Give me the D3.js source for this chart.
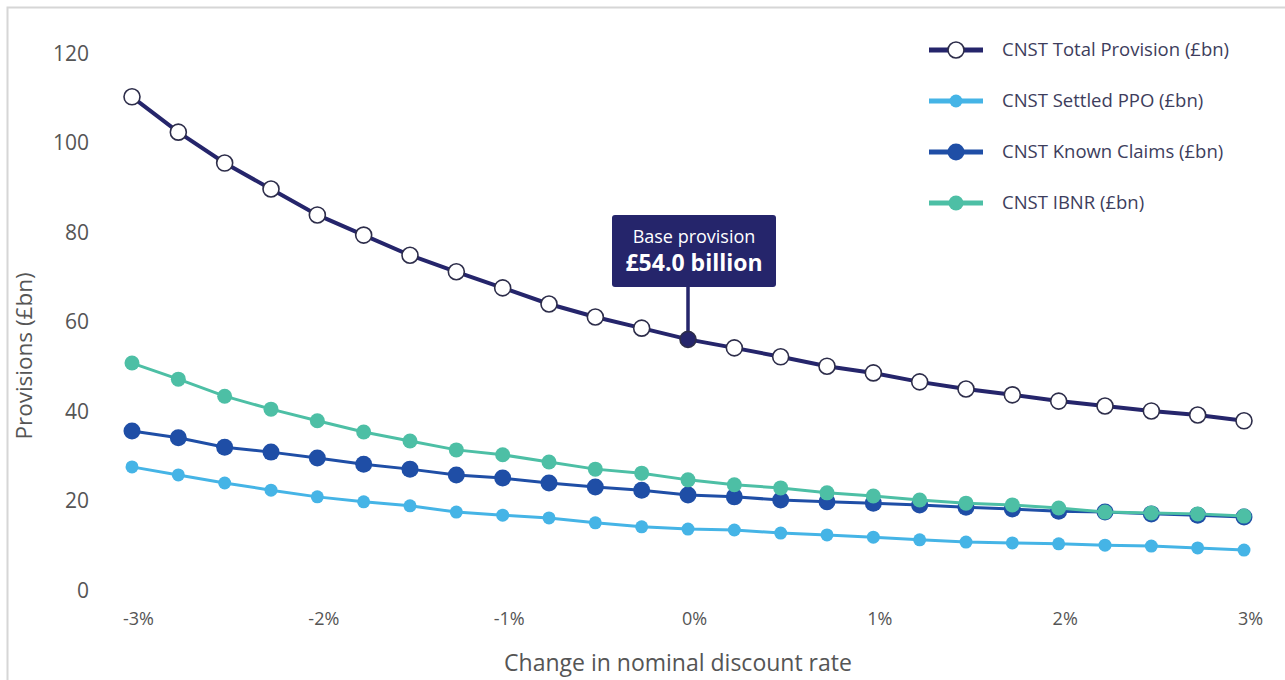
<!DOCTYPE html>
<html>
<head>
<meta charset="utf-8">
<script src="https://cdn.jsdelivr.net/npm/d3@7"></script>
<style>
  html, body { margin: 0; padding: 0; background: #ffffff; }
  svg { display: block; font-family: "Open Sans", sans-serif; }
</style>
</head>
<body>
<svg id="chart" width="1285" height="680"></svg>
<script>
// ---- Data ----
const rates = [-3, -2.75, -2.5, -2.25, -2, -1.75, -1.5, -1.25, -1, -0.75, -0.5, -0.25, 0,
               0.25, 0.5, 0.75, 1, 1.25, 1.5, 1.75, 2, 2.25, 2.5, 2.75, 3];
const totalProvision = [108.2, 100.3, 93.4, 87.6, 81.8, 77.3, 72.8, 69.1, 65.5, 61.9, 59.0, 56.5, 54.0,
                        52.1, 50.1, 48.0, 46.5, 44.5, 42.9, 41.6, 40.2, 39.1, 38.0, 37.1, 35.8];
const settledPPO = [25.5, 23.7, 21.9, 20.3, 18.8, 17.7, 16.8, 15.4, 14.7, 14.1, 13.0, 12.1, 11.6,
                    11.4, 10.7, 10.3, 9.8, 9.2, 8.7, 8.5, 8.3, 8.0, 7.8, 7.4, 6.9];
const knownClaims = [33.5, 32.0, 29.9, 28.8, 27.5, 26.1, 25.0, 23.7, 23.0, 21.9, 21.0, 20.3, 19.2,
                     18.8, 18.1, 17.7, 17.4, 17.0, 16.5, 16.1, 15.6, 15.4, 15.0, 14.7, 14.3];
const ibnr = [48.7, 45.1, 41.3, 38.4, 35.8, 33.3, 31.3, 29.3, 28.2, 26.6, 25.0, 24.1, 22.6,
              21.5, 20.8, 19.7, 19.0, 18.1, 17.4, 17.0, 16.3, 15.4, 15.2, 15.0, 14.5];
const seriesNames = ["CNST Total Provision (£bn)", "CNST Settled PPO (£bn)", "CNST Known Claims (£bn)", "CNST IBNR (£bn)"];
const xTicks = [-3, -2, -1, 0, 1, 2, 3];
const yTicks = [0, 20, 40, 60, 80, 100, 120];
const baseRate = 0;
const baseLabel = ["Base provision", "£54.0 billion"];
const xTitle = "Change in nominal discount rate";
const yTitle = "Provisions (£bn)";

// ---- Styles ----
const colors = {
  total: "#25256b",
  ppo: "#45b4e6",
  known: "#1f4ea6",
  ibnr: "#4dbfa5"
};

const svg = d3.select("#chart");

// frame
svg.append("rect")
  .attr("x", 7.5).attr("y", 7.5)
  .attr("width", 1400).attr("height", 800)
  .attr("fill", "none").attr("stroke", "#d6d6d6").attr("stroke-width", 2);

const x = d3.scaleLinear().domain([-3, 3]).range([132, 1244]);
const y = d3.scaleLinear().domain([0, 120]).range([581, 44]);

// Y axis
const yAxis = svg.append("g")
  .attr("transform", "translate(89,0)")
  .call(d3.axisLeft(y).tickValues(yTicks).tickSize(0).tickPadding(0).tickFormat(d3.format("d")));
yAxis.select(".domain").remove();
yAxis.selectAll("text")
  .attr("font-family", "Open Sans, sans-serif")
  .attr("font-size", 21)
  .attr("fill", "#555")
  .attr("dy", "0.34em")
  .attr("transform", "translate(0,9)");

// X axis
const xAxis = svg.append("g")
  .attr("transform", "translate(6,612)")
  .call(d3.axisBottom(x).tickValues(xTicks).tickSize(0).tickPadding(0).tickFormat(d => d + "%"));
xAxis.select(".domain").remove();
xAxis.selectAll("text")
  .attr("font-family", "Open Sans, sans-serif")
  .attr("font-size", 18)
  .attr("fill", "#555");

// Axis titles
svg.append("text")
  .attr("x", 678).attr("y", 671)
  .attr("text-anchor", "middle")
  .attr("font-size", 23)
  .attr("fill", "#555")
  .text(xTitle);

svg.append("text")
  .attr("transform", "translate(32,356) rotate(-90)")
  .attr("text-anchor", "middle")
  .attr("font-size", 22.5)
  .attr("fill", "#555")
  .text(yTitle);

const line = d3.line().x(d => x(d[0])).y(d => y(d[1]));

function drawSeries(values, color, lw, r, fill, stroke, sw) {
  const pts = rates.map((r0, i) => [r0, values[i]]);
  svg.append("path")
    .datum(pts)
    .attr("d", line)
    .attr("fill", "none")
    .attr("stroke", color)
    .attr("stroke-width", lw);
  svg.append("g").selectAll("circle")
    .data(pts)
    .join("circle")
    .attr("cx", d => x(d[0]))
    .attr("cy", d => y(d[1]))
    .attr("r", r)
    .attr("fill", d => (fill === "white" && d[0] === baseRate) ? color : fill)
    .attr("stroke", stroke)
    .attr("stroke-width", sw);
}

drawSeries(settledPPO, colors.ppo, 3, 6.5, colors.ppo, "none", 0);
drawSeries(knownClaims, colors.known, 3, 8.5, colors.known, "none", 0);
drawSeries(ibnr, colors.ibnr, 3, 7.5, colors.ibnr, "none", 0);

// Annotation stem (under the total markers)
const baseIdx = rates.indexOf(baseRate);
const bx = x(baseRate), by = y(totalProvision[baseIdx]);
svg.append("line")
  .attr("x1", bx).attr("x2", bx)
  .attr("y1", 286).attr("y2", by)
  .attr("stroke", colors.total).attr("stroke-width", 3.5);

drawSeries(totalProvision, colors.total, 4, 8, "white", "#2d2d4a", 1.6);

// Annotation box
svg.append("rect")
  .attr("x", bx - 76).attr("y", 215)
  .attr("width", 164).attr("height", 72)
  .attr("rx", 3)
  .attr("fill", colors.total);
svg.append("text")
  .attr("x", bx + 6).attr("y", 243)
  .attr("text-anchor", "middle")
  .attr("fill", "#ffffff")
  .attr("font-size", 18)
  .text(baseLabel[0]);
svg.append("text")
  .attr("x", bx + 6).attr("y", 271)
  .attr("text-anchor", "middle")
  .attr("fill", "#ffffff")
  .attr("font-size", 23)
  .attr("font-weight", "bold")
  .text(baseLabel[1]);

// Legend
const legendItems = [
  { name: seriesNames[0], color: colors.total, r: 8, fill: "white", stroke: "#2d2d4a", sw: 1.6 },
  { name: seriesNames[1], color: colors.ppo, r: 6.5, fill: colors.ppo, stroke: "none", sw: 0 },
  { name: seriesNames[2], color: colors.known, r: 8.5, fill: colors.known, stroke: "none", sw: 0 },
  { name: seriesNames[3], color: colors.ibnr, r: 7.5, fill: colors.ibnr, stroke: "none", sw: 0 }
];
const legend = svg.append("g");
legendItems.forEach((it, i) => {
  const ly = 50 + i * 51;
  legend.append("line")
    .attr("x1", 929).attr("x2", 983)
    .attr("y1", ly).attr("y2", ly)
    .attr("stroke", it.color).attr("stroke-width", 5);
  legend.append("circle")
    .attr("cx", 956).attr("cy", ly).attr("r", it.r)
    .attr("fill", it.fill).attr("stroke", it.stroke).attr("stroke-width", it.sw);
  legend.append("text")
    .attr("x", 1002).attr("y", ly)
    .attr("dy", "0.35em")
    .attr("font-size", 18.5)
    .attr("fill", "#3d3d5c")
    .text(it.name);
});
</script>
</body>
</html>
